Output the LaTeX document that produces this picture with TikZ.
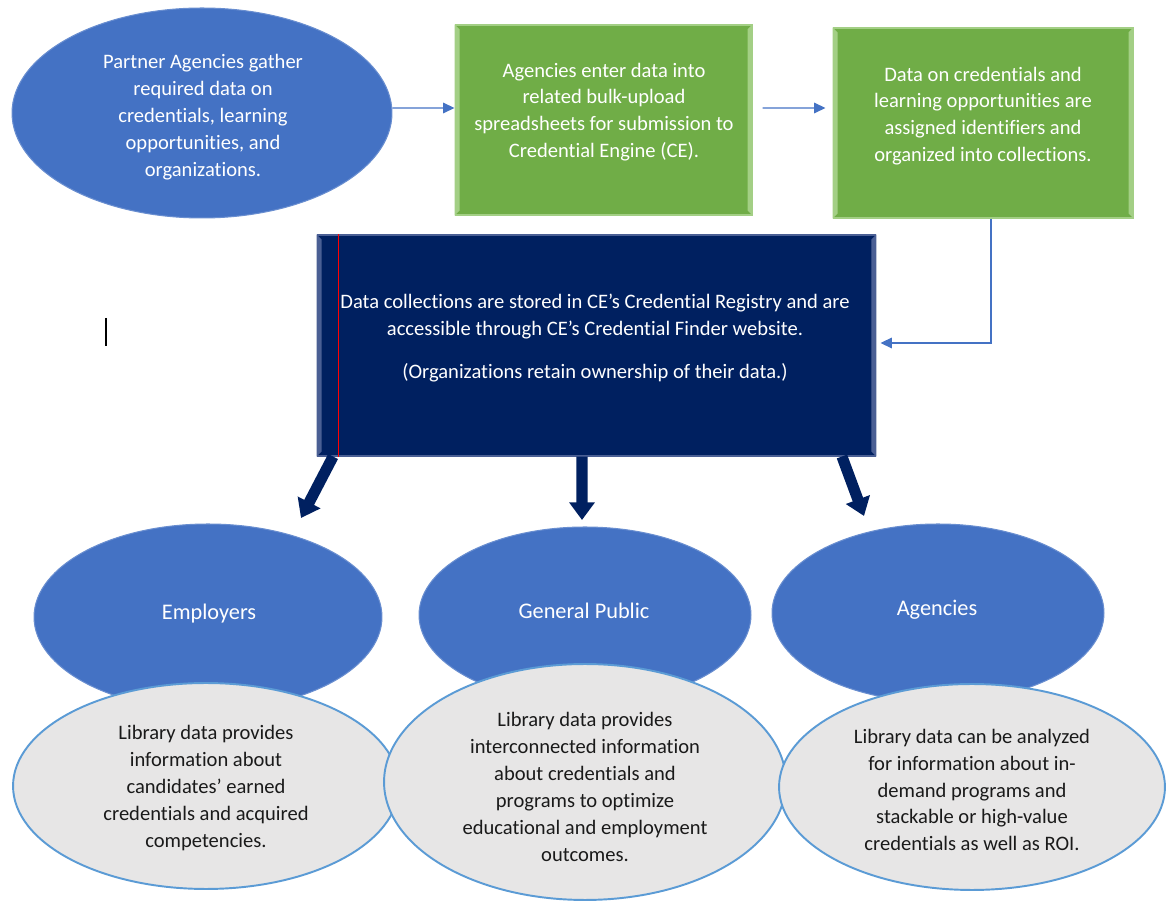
\documentclass[tikz,border=0pt]{standalone}
\usepackage{fontspec}
\setmainfont{Carlito}[Ligatures=NoCommon]
\usetikzlibrary{shapes.geometric,arrows.meta}
\definecolor{ceblue}{HTML}{4472C4}
\definecolor{cegreen}{HTML}{70AD47}
\definecolor{cegreenlight}{HTML}{A3CF85}
\definecolor{cenavy}{HTML}{002060}
\definecolor{cenavylight}{HTML}{4A5F94}
\definecolor{cegrey}{HTML}{E7E6E6}
\definecolor{ceedge}{HTML}{5B9BD5}
\definecolor{cetext}{HTML}{1A1A1A}
\tikzset{
	body/.style={font=\fontsize{11.7}{15.3}\selectfont, align=center, inner sep=0pt},
	heading/.style={font=\fontsize{12.7}{15}\selectfont, text=white, inner sep=0pt},
	blueoval/.style={ellipse, fill=ceblue, draw=ceblue!80!white, line width=0.6pt, inner sep=0pt},
	greyoval/.style={ellipse, fill=cegrey, draw=ceedge, line width=1.1pt, inner sep=0pt},
	greenbox/.style={rectangle, fill=cegreen, draw=cegreenlight, line width=0.6pt, inner sep=0pt},
	navybox/.style={rectangle, fill=cenavy, draw=cenavylight, line width=0.6pt, inner sep=0pt},
	flow/.style={draw=ceblue, line width=0.8pt, -{Triangle[length=6.5pt, width=6pt]}},
	bigflow/.style={draw=cenavy, line width=6.3pt, -{Triangle[length=10pt, width=14pt]}}
}
\begin{document}
\begin{tikzpicture}[x=0.02cm, y=-0.02cm]
	\useasboundingbox (0,0) rectangle (1167,901);

	\node [blueoval, minimum width=7.6cm, minimum height=4.2cm] (partner) at (202,113) {};
	\node [greenbox, minimum width=5.94cm, minimum height=3.8cm] (enterbox) at (603.5,120) {};
	\node [greenbox, minimum width=6cm, minimum height=3.8cm] (identbox) at (983,123) {};
	\node [navybox, minimum width=11.18cm, minimum height=4.42cm] (storebox) at (596.5,345.5) {};

	\foreach \b/\c in {enterbox/cegreenlight, identbox/cegreenlight, storebox/cenavylight}
	{
		\fill[\c] (\b.north west) -- ([xshift=0.1cm, yshift=-0.1cm]\b.north west) -- ([xshift=0.1cm, yshift=0.1cm]\b.south west) -- (\b.south west) -- cycle;
		\fill[\c] (\b.north east) -- ([xshift=-0.1cm, yshift=-0.1cm]\b.north east) -- ([xshift=-0.1cm, yshift=0.1cm]\b.south east) -- (\b.south east) -- cycle;
	}

	\node [blueoval, minimum width=6.96cm, minimum height=3.72cm] (emp) at (208,617) {};
	\node [blueoval, minimum width=6.64cm, minimum height=3.52cm] (pub) at (585,615) {};
	\node [blueoval, minimum width=6.64cm, minimum height=3.56cm] (agn) at (938,613) {};
	\node [greyoval, minimum width=7.72cm, minimum height=4.12cm] (empinfo) at (206,786) {};
	\node [greyoval, minimum width=8.04cm, minimum height=4.72cm] (pubinfo) at (585,782) {};
	\node [greyoval, minimum width=7.72cm, minimum height=4.12cm] (agninfo) at (972,787) {};

	\node [body, text=white] (partnertext) at (203,117) {Partner Agencies gather\\required data on\\credentials, learning\\opportunities, and\\organizations.};
	\node [body, text=white] (entertext) at (604,112) {Agencies enter data into\\related bulk-upload\\spreadsheets for submission to\\Credential Engine (CE).};
	\node [body, text=white] (identtext) at (983,116) {Data on credentials and\\learning opportunities are\\assigned identifiers and\\organized into collections.};
	\node [body, text=white] (storetext) at (595,338) {Data collections are stored in CE’s Credential Registry and are\\accessible through CE’s Credential Finder website.\\[9.6pt](Organizations retain ownership of their data.)};

	\node [heading] (emptext) at (209,614) {Employers};
	\node [heading] (pubtext) at (584,611) {General Public};
	\node [heading] (agntext) at (937,610) {Agencies};

	\node [body, text=cetext] (empinfotext) at (206,788) {Library data provides\\information about\\candidates’ earned\\credentials and acquired\\competencies.};
	\node [body, text=cetext] (pubinfotext) at (585,787) {Library data provides\\interconnected information\\about credentials and\\programs to optimize\\educational and employment\\outcomes.};
	\node [body, text=cetext] (agninfotext) at (972,790) {Library data can be analyzed\\for information about in-\\demand programs and\\stackable or high-value\\credentials as well as ROI.};

	\draw[flow] ([yshift=0.1cm]partner.east) -- ([yshift=0.24cm]enterbox.west);
	\draw[flow, shorten <=0.2cm, shorten >=0.14cm] ([yshift=0.24cm]enterbox.east) -- ([yshift=0.3cm]identbox.west);
	\draw[flow, shorten >=0.08cm] ([xshift=0.16cm]identbox.south) |- ([yshift=0.05cm]storebox.east);

	\coordinate (empin) at (301,518);
	\coordinate (pubin) at (582,520);
	\coordinate (agnin) at (864,516);
	\foreach \s/\t in {-5.27cm/empin, -0.29cm/pubin, 4.91cm/agnin}
	{
		\draw[bigflow] ([xshift=\s]storebox.south) -- (\t);
	}

	\draw[red, line width=0.7pt] ([xshift=0.44cm]storebox.north west) -- ([xshift=0.44cm]storebox.south west);
	\draw[line width=0.9pt] (106,318) -- (106,346);
\end{tikzpicture}
\end{document}
